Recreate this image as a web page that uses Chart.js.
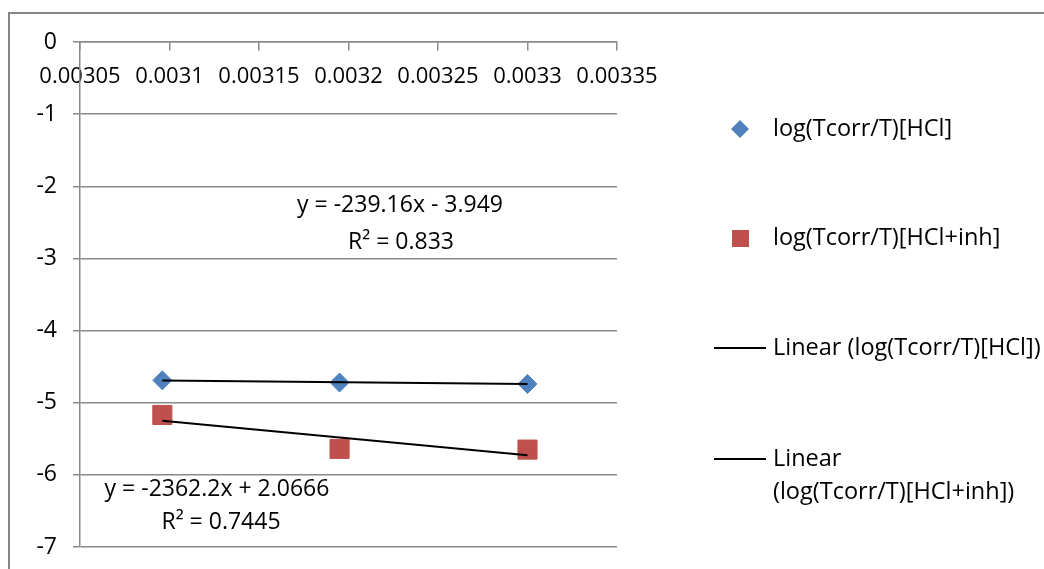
<!DOCTYPE html>
<html>
<head>
<meta charset="utf-8">
<script src="https://cdn.jsdelivr.net/npm/chart.js@4.4.1/dist/chart.umd.min.js"></script>
<style>
  html, body { margin: 0; padding: 0; background: #fff; }
  #wrap { position: relative; width: 1044px; height: 569px; }
</style>
</head>
<body>
<div id="wrap"><canvas id="myChart"></canvas></div>
<script>
// 1/T values (x) and the two measured series (y)
var invTemp = [0.003096, 0.003195, 0.0033];
var logHCl = [-4.69, -4.72, -4.74];
var logHClInh = [-5.17, -5.64, -5.65];

var seriesNames = ['log(Tcorr/T)[HCl]', 'log(Tcorr/T)[HCl+inh]'];
var trendNames = ['Linear (log(Tcorr/T)[HCl])', 'Linear (log(Tcorr/T)[HCl+inh])'];
var eqHCl = ['y = -239.16x - 3.949', 'R\u00b2 = 0.833'];
var eqHClInh = ['y = -2362.2x + 2.0666', 'R\u00b2 = 0.7445'];

var xTicks = [0.00305, 0.0031, 0.00315, 0.0032, 0.00325, 0.0033, 0.00335];
var yTicks = [0, -1, -2, -3, -4, -5, -6, -7];

var FONT = '"Open Sans", "Liberation Sans", sans-serif';
var gridGrey = '#8a8a8a';
var blue = '#4F81BD';
var red = '#C0504D';

function points(xs, ys) {
  return xs.map(function (x, i) { return { x: x, y: ys[i] }; });
}

// least squares line, drawn from first to last x like Excel does
function trend(xs, ys) {
  var n = xs.length, sx = 0, sy = 0, sxx = 0, sxy = 0;
  for (var i = 0; i < n; i++) {
    sx += xs[i]; sy += ys[i]; sxx += xs[i] * xs[i]; sxy += xs[i] * ys[i];
  }
  var m = (n * sxy - sx * sy) / (n * sxx - sx * sx);
  var b = (sy - m * sx) / n;
  var lo = Math.min.apply(null, xs), hi = Math.max.apply(null, xs);
  return [{ x: lo, y: m * lo + b }, { x: hi, y: m * hi + b }];
}

// outer frame, equation labels and the legend on the right
var extras = {
  id: 'extras',
  beforeDraw: function (chart) {
    var ctx = chart.ctx;
    ctx.save();
    ctx.strokeStyle = '#868686';
    ctx.lineWidth = 2;
    ctx.beginPath();
    ctx.moveTo(9, 600);
    ctx.lineTo(9, 13);
    ctx.lineTo(1100, 13);
    ctx.stroke();
    ctx.restore();
  },
  afterDraw: function (chart) {
    var ctx = chart.ctx;
    ctx.save();
    ctx.font = '23px ' + FONT;
    ctx.fillStyle = '#000';
    ctx.textBaseline = 'middle';
    ctx.textAlign = 'center';
    ctx.fillText(eqHCl[0], 400, 205);
    ctx.fillText(eqHCl[1], 401, 242);
    ctx.fillText(eqHClInh[0], 217, 489);
    ctx.fillText(eqHClInh[1], 221, 522);

    // legend
    ctx.font = '23.5px ' + FONT;
    ctx.textAlign = 'left';
    var ds = chart.data.datasets;
    ctx.fillStyle = ds[0].backgroundColor;
    ctx.beginPath();
    ctx.moveTo(731, 129); ctx.lineTo(740, 120); ctx.lineTo(749, 129); ctx.lineTo(740, 138);
    ctx.closePath();
    ctx.fill();
    ctx.fillStyle = ds[1].backgroundColor;
    ctx.fillRect(732, 230, 17, 17);

    ctx.strokeStyle = '#000';
    ctx.lineWidth = 2;
    ctx.beginPath();
    ctx.moveTo(714, 348); ctx.lineTo(766, 348);
    ctx.moveTo(714, 459); ctx.lineTo(766, 459);
    ctx.stroke();

    ctx.fillStyle = '#000';
    ctx.fillText(ds[0].label, 773, 129);
    ctx.fillText(ds[1].label, 773, 238);
    ctx.fillText(ds[2].label, 773, 348);
    var parts = ds[3].label.split(' ');
    ctx.fillText(parts[0], 773, 459);
    ctx.fillText(parts.slice(1).join(' '), 773, 492);
    ctx.restore();
  }
};

new Chart(document.getElementById('myChart').getContext('2d'), {
  type: 'scatter',
  data: {
    datasets: [
      {
        label: seriesNames[0],
        data: points(invTemp, logHCl),
        backgroundColor: blue,
        borderColor: blue,
        pointStyle: 'rectRot',
        pointRadius: 9.5,
        order: 2
      },
      {
        label: seriesNames[1],
        data: points(invTemp, logHClInh),
        backgroundColor: red,
        borderColor: red,
        pointStyle: 'rect',
        pointRadius: 13.5,
        order: 2
      },
      {
        label: trendNames[0],
        type: 'line',
        data: trend(invTemp, logHCl),
        borderColor: '#000',
        borderWidth: 2,
        pointRadius: 0,
        showLine: true,
        order: 1
      },
      {
        label: trendNames[1],
        type: 'line',
        data: trend(invTemp, logHClInh),
        borderColor: '#000',
        borderWidth: 2,
        pointRadius: 0,
        showLine: true,
        order: 1
      }
    ]
  },
  options: {
    responsive: true,
    maintainAspectRatio: false,
    animation: false,
    layout: { padding: { left: 0, top: 42, right: 427, bottom: 22 } },
    plugins: {
      legend: { display: false },
      tooltip: { enabled: false }
    },
    scales: {
      x: {
        type: 'linear',
        position: { y: 0 },
        min: xTicks[0],
        max: xTicks[xTicks.length - 1],
        afterBuildTicks: function (scale) {
          scale.ticks = xTicks.map(function (v) { return { value: v }; });
        },
        ticks: {
          color: '#000',
          padding: 14,
          maxRotation: 0,
          autoSkip: false,
          font: { family: FONT, size: 22 },
          callback: function (v) { return String(parseFloat(Number(v).toPrecision(6))); }
        },
        grid: { drawOnChartArea: false, drawTicks: true, tickLength: 8, color: gridGrey, lineWidth: 1.5 },
        border: { display: true, color: gridGrey, width: 1.5 }
      },
      y: {
        type: 'linear',
        min: yTicks[yTicks.length - 1],
        max: yTicks[0],
        afterBuildTicks: function (scale) {
          scale.ticks = yTicks.map(function (v) { return { value: v }; });
        },
        afterFit: function (scale) {
          scale.width = 80;
          scale.paddingTop = 0;
          scale.paddingBottom = 0;
        },
        ticks: {
          color: '#000',
          padding: 16,
          font: { family: FONT, size: 23 },
          callback: function (v) { return String(v); }
        },
        grid: { color: gridGrey, lineWidth: 1.5, tickLength: 7 },
        border: { display: true, color: gridGrey, width: 1.5 }
      }
    }
  },
  plugins: [extras]
});
</script>
</body>
</html>
